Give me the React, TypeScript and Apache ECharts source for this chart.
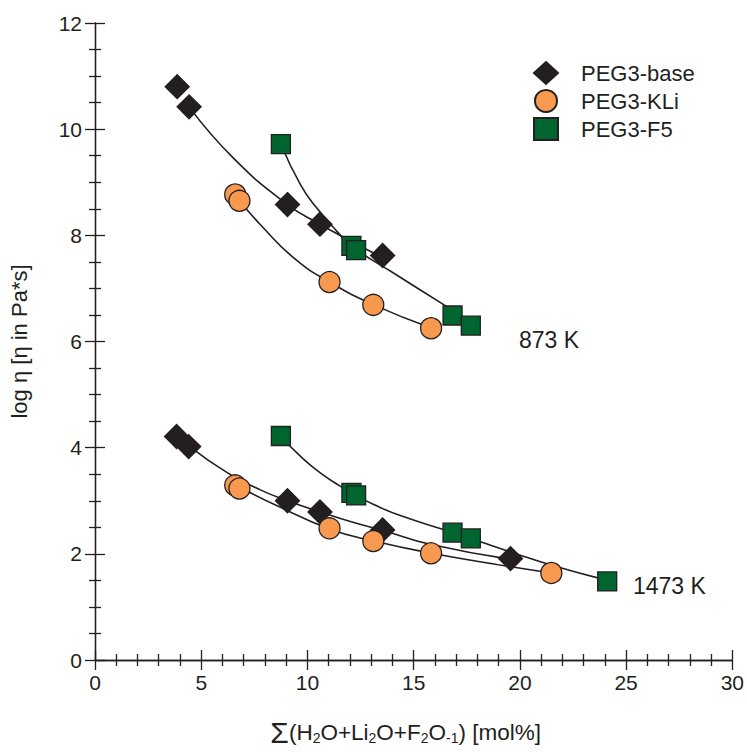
import React, { useEffect, useRef } from "react";
import * as echarts from "echarts";

// measured points
const baseX873 = [3.87, 4.43, 9.06, 10.59, 13.54];
const baseY873 = [10.8, 10.42, 8.58, 8.21, 7.62];
const kliX873 = [6.6, 6.8, 11.04, 13.1, 15.82];
const kliY873 = [8.77, 8.65, 7.12, 6.69, 6.25];
const f5X873 = [8.75, 12.07, 12.29, 16.83, 17.69];
const f5Y873 = [9.72, 7.8, 7.72, 6.49, 6.3];

const baseX1473 = [3.84, 4.41, 9.06, 10.59, 13.54, 19.56];
const baseY1473 = [4.21, 4.02, 3.0, 2.79, 2.45, 1.91];
const kliX1473 = [6.6, 6.8, 11.04, 13.1, 15.82, 21.48];
const kliY1473 = [3.29, 3.23, 2.48, 2.24, 2.01, 1.64];
const f5X1473 = [8.75, 12.07, 12.29, 16.83, 17.69, 24.11];
const f5Y1473 = [4.22, 3.15, 3.1, 2.4, 2.29, 1.48];

// fitted curves, points
const baseCurveX873 = [4.43, 6.55, 9.06, 10.59, 12.1, 13.54];
const baseCurveY873 = [10.42, 9.44, 8.58, 8.21, 7.88, 7.58];
const kliCurveX873 = [6.8, 7.81, 9.37, 11.04, 13.12, 15.8];
const kliCurveY873 = [8.65, 8.19, 7.57, 7.12, 6.69, 6.26];
const f5CurveX873 = [8.75, 9.69, 10.47, 11.4, 12.06, 14.05, 16.47, 17.64];
const f5CurveY873 = [9.72, 8.94, 8.5, 8.07, 7.8, 7.29, 6.68, 6.38];

const baseCurveX1473 = [4.46, 6.26, 7.81, 9.06, 10.59, 12.18, 13.56, 15.77, 19.51];
const baseCurveY1473 = [4.02, 3.52, 3.2, 3.0, 2.79, 2.59, 2.44, 2.18, 1.9];
const kliCurveX1473 = [6.8, 8.6, 11.04, 13.12, 15.85, 19.51, 21.48];
const kliCurveY1473 = [3.26, 2.9, 2.47, 2.24, 2.01, 1.76, 1.64];
const f5CurveX1473 = [8.75, 9.69, 10.62, 11.56, 12.06, 13.12, 14.37, 16.86, 19.67, 21.54, 24.11];
const f5CurveY1473 = [4.21, 3.83, 3.52, 3.27, 3.15, 2.93, 2.72, 2.4, 2.02, 1.78, 1.5];

const seriesNames = ["PEG3-base", "PEG3-KLi", "PEG3-F5"];
const tempLabels = ["873 K", "1473 K"];

const DARK = "#231f20";
const FONT = "Liberation Sans, Arial, sans-serif";

const zip = (xs: number[], ys: number[]) => xs.map((x, i) => [x, ys[i]]);

export default function App() {
  const ref = useRef<HTMLDivElement>(null);
  useEffect(() => {
    if (!ref.current) return;
    const chart = echarts.init(ref.current, null, { renderer: "svg" });

    const groups = [
      {
        name: seriesNames[0], symbol: "diamond", size: 24, color: DARK,
        d: [zip(baseX873, baseY873), zip(baseX1473, baseY1473)],
        c: [zip(baseCurveX873, baseCurveY873), zip(baseCurveX1473, baseCurveY1473)],
      },
      {
        name: seriesNames[1], symbol: "circle", size: 21, color: "#f7994f",
        d: [zip(kliX873, kliY873), zip(kliX1473, kliY1473)],
        c: [zip(kliCurveX873, kliCurveY873), zip(kliCurveX1473, kliCurveY1473)],
      },
      {
        name: seriesNames[2], symbol: "rect", size: 19, color: "#00652e",
        d: [zip(f5X873, f5Y873), zip(f5X1473, f5Y1473)],
        c: [zip(f5CurveX873, f5CurveY873), zip(f5CurveX1473, f5CurveY1473)],
      },
    ];

    const series: any[] = [];
    groups.forEach((g) => {
      g.c.forEach((data) => {
        series.push({
          type: "line",
          data,
          smooth: 0.5,
          showSymbol: false,
          symbol: "none",
          lineStyle: { color: DARK, width: 1.6 },
          z: 1,
          silent: true,
        });
      });
    });
    groups.forEach((g) => {
      g.d.forEach((data) => {
        series.push({
          type: "scatter",
          name: g.name,
          data,
          symbol: g.symbol,
          symbolSize: g.size,
          itemStyle: { color: g.color, borderColor: DARK, borderWidth: 1.3, opacity: 1 },
          z: 3,
        });
      });
    });

    const tickStyle = { color: DARK, width: 1.3 };
    const xCommon = {
      type: "value",
      min: 0,
      max: 30,
      interval: 5,
      axisLine: { show: true, lineStyle: tickStyle },
      splitLine: { show: false },
      axisTick: { show: true, inside: true, length: 10, lineStyle: tickStyle },
      minorTick: { show: true, splitNumber: 5, length: 6, lineStyle: tickStyle },
    };
    const yCommon = {
      type: "value",
      min: 0,
      max: 12,
      interval: 2,
      axisLine: { show: true, lineStyle: tickStyle },
      splitLine: { show: false },
      axisTick: { show: true, inside: true, length: 10, lineStyle: tickStyle },
      minorTick: { show: true, splitNumber: 4, length: 6, lineStyle: tickStyle },
    };

    chart.setOption({
      animation: false,
      backgroundColor: "#fff",
      grid: { left: 93, right: 13, top: 23, bottom: 87, containLabel: false },
      legend: {
        data: seriesNames.map((n) => ({ name: n })),
        orient: "vertical",
        left: 528,
        top: 56,
        itemWidth: 24,
        itemHeight: 22,
        itemGap: 4,
        textStyle: { fontFamily: FONT, fontSize: 22, lineHeight: 22, color: DARK, padding: [0, 0, 0, 18] },
      },
      xAxis: [
        {
          ...xCommon,
          position: "bottom",
          axisLabel: { fontFamily: FONT, fontSize: 21, color: DARK, margin: 12 },
          name: "{sig|Σ}{n|(H}{sub|2}{n|O+Li}{sub|2}{n|O+F}{sub|2}{n|O}{sub|-1}{n|) [mol%]}",
          nameLocation: "middle",
          nameGap: 57,
          nameTextStyle: {
            fontFamily: FONT,
            color: DARK,
            padding: [0, 16, 0, 0],
            rich: {
              sig: { fontSize: 30, fontFamily: FONT, color: DARK },
              n: { fontSize: 22.5, fontFamily: FONT, color: DARK },
              sub: { fontSize: 14, fontFamily: FONT, color: DARK, padding: [12, 0, 0, 0] },
            },
          },
        },
        { ...xCommon, position: "top", axisLabel: { show: false } },
      ],
      yAxis: [
        {
          ...yCommon,
          position: "left",
          axisLabel: { fontFamily: FONT, fontSize: 21, color: DARK, margin: 13 },
          name: "log η [η in Pa*s]",
          nameLocation: "middle",
          nameGap: 65,
          nameTextStyle: { fontFamily: FONT, fontSize: 22, color: DARK },
        },
        { ...yCommon, position: "right", axisLabel: { show: false } },
      ],
      graphic: [
        { type: "text", left: 519, top: 328, style: { text: tempLabels[0], fontFamily: FONT, fontSize: 23, fill: DARK } },
        { type: "text", left: 633, top: 574, style: { text: tempLabels[1], fontFamily: FONT, fontSize: 23, fill: DARK } },
      ],
      series,
    });
    return () => chart.dispose();
  }, []);
  return <div ref={ref} style={{ position: "absolute", left: 0, top: 0, width: 747, height: 752 }} />;
}
